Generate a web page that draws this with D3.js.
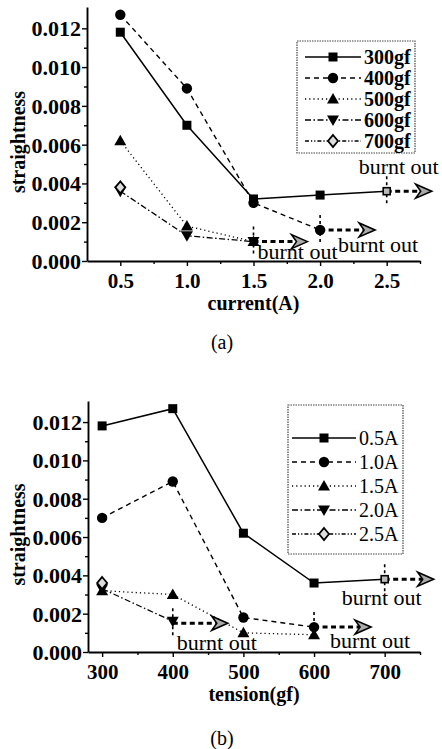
<!DOCTYPE html>
<html>
<head>
<meta charset="utf-8">
<script src="https://cdn.jsdelivr.net/npm/d3@7"></script>
<style>
  html, body { margin: 0; padding: 0; background: #fff; }
  svg { display: block; font-family: "Liberation Serif", "Times New Roman", serif; }
</style>
</head>
<body>
<svg id="chart" width="442" height="749"></svg>
<script>
// ---------------- DATA ----------------
const currents = [0.5, 1.0, 1.5, 2.0, 2.5];
const tensions = [300, 400, 500, 600, 700];

// chart (a): straightness vs current, one series per tension
const tensionLabels = ["300gf", "400gf", "500gf", "600gf", "700gf"];
const a300 = [0.0118, 0.0070, 0.0032, 0.0034, 0.0036];
const a400 = [0.0127, 0.0089, 0.0030, 0.0016];
const a500 = [0.0062, 0.0018, 0.0010];
const a600 = [0.0036, 0.0013, 0.0010];
const a700 = [0.0038];

// chart (b): straightness vs tension, one series per current
const currentLabels = ["0.5A", "1.0A", "1.5A", "2.0A", "2.5A"];
const b05 = [0.0118, 0.0127, 0.0062, 0.0036, 0.0038];
const b10 = [0.0070, 0.0089, 0.0018, 0.0013];
const b15 = [0.0032, 0.0030, 0.0010, 0.0009];
const b20 = [0.0033, 0.0016];
const b25 = [0.0036];

// burnt-out points
const burntA = [{x: 2.5, v: 0.0036}, {x: 2.0, v: 0.0016}, {x: 1.5, v: 0.0010}];
const burntB = [{x: 700, v: 0.0038}, {x: 600, v: 0.0013}, {x: 400, v: 0.0015}];
const burntText = "burnt out";

const yTicks = [0, 0.002, 0.004, 0.006, 0.008, 0.010, 0.012];
const yMinor = [0.001, 0.003, 0.005, 0.007, 0.009, 0.011];
const xTicksA = [0.5, 1.0, 1.5, 2.0, 2.5];
const xMinorA = [0.75, 1.25, 1.75, 2.25, 2.75];
const xTicksB = [300, 400, 500, 600, 700];
const xMinorB = [350, 450, 550, 650, 750];

// ---------------- STYLES ----------------
const dashes = [null, "5,4", "1.2,3", "6,2.5,1.5,2.5", "4,2,1.2,2,1.2,2"];
const widths = [1.5, 1.4, 1.3, 1.3, 1.3];
const markers = ["square", "circle", "triangle", "triangleDown", "diamond"];

const svg = d3.select("#chart");

function drawMarker(g, type, x, y, scale) {
  const s = scale || 1;
  if (type === "square") {
    g.append("rect").attr("x", x - 4.5 * s).attr("y", y - 4.5 * s)
      .attr("width", 9 * s).attr("height", 9 * s).attr("fill", "#000");
  } else if (type === "circle") {
    g.append("circle").attr("cx", x).attr("cy", y).attr("r", 5.2 * s).attr("fill", "#000");
  } else if (type === "triangle") {
    g.append("path").attr("d", `M${x},${y - 6 * s}L${x + 6 * s},${y + 4.5 * s}L${x - 6 * s},${y + 4.5 * s}Z`).attr("fill", "#000");
  } else if (type === "triangleDown") {
    g.append("path").attr("d", `M${x},${y + 6 * s}L${x + 6 * s},${y - 4.5 * s}L${x - 6 * s},${y - 4.5 * s}Z`).attr("fill", "#000");
  } else if (type === "diamond") {
    g.append("path").attr("d", `M${x},${y - 6 * s}L${x + 5 * s},${y}L${x},${y + 6 * s}L${x - 5 * s},${y}Z`)
      .attr("fill", "#ddd").attr("stroke", "#000").attr("stroke-width", 1.8);
  } else if (type === "small") {
    g.append("rect").attr("x", x - 3.5).attr("y", y - 3.5).attr("width", 7).attr("height", 7)
      .attr("fill", "#bbb").attr("stroke", "#000").attr("stroke-width", 1.6);
  }
}

function drawChart(opt) {
  const g = svg.append("g");
  const x = d3.scaleLinear().domain(opt.xDomain).range(opt.xRange);
  const y = d3.scaleLinear().domain([0, 0.0131]).range(opt.yRange);
  const x0 = opt.xRange[0], yBottom = opt.yRange[0];

  // axes
  const yAxis = g.append("g").attr("transform", `translate(${x0},0)`)
    .call(d3.axisLeft(y).tickValues(yTicks).tickFormat(d3.format(".3f")).tickSize(5).tickSizeOuter(0));
  g.append("g").attr("transform", `translate(${x0},0)`)
    .call(d3.axisLeft(y).tickValues(yMinor).tickFormat("").tickSize(3).tickSizeOuter(0))
    .select(".domain").remove();
  const xAxis = g.append("g").attr("transform", `translate(0,${yBottom})`)
    .call(d3.axisBottom(x).tickValues(opt.xTicks).tickFormat(opt.xFormat).tickSize(5).tickSizeOuter(0));
  g.append("g").attr("transform", `translate(0,${yBottom})`)
    .call(d3.axisBottom(x).tickValues(opt.xMinor).tickFormat("").tickSize(3).tickSizeOuter(0))
    .select(".domain").remove();
  g.selectAll(".domain").attr("stroke-width", 1.9);
  g.selectAll(".tick line").attr("stroke-width", 1.4);
  yAxis.selectAll("text").attr("font-size", 22).attr("font-weight", "bold")
    .attr("font-family", "Liberation Serif").attr("x", -6).attr("dy", "0.34em");
  xAxis.selectAll("text").attr("font-size", 21).attr("font-weight", "bold")
    .attr("font-family", "Liberation Serif").attr("y", 12);

  // titles
  g.append("text").attr("x", (opt.xRange[0] + opt.xRange[1]) / 2).attr("y", opt.xTitleY)
    .attr("text-anchor", "middle").attr("font-size", 20).attr("font-weight", "bold").text(opt.xTitle);
  const yc = (opt.yRange[0] + opt.yRange[1]) / 2 + 8;
  g.append("text").attr("transform", `translate(25,${yc}) rotate(-90)`)
    .attr("text-anchor", "middle").attr("font-size", 20).attr("font-weight", "bold").text("straightness");
  g.append("text").attr("x", 222).attr("y", opt.captionY).attr("text-anchor", "middle")
    .attr("font-size", 20).text(opt.caption);

  // series lines
  opt.series.forEach((vals, i) => {
    const pts = vals.map((v, k) => [opt.xs[k], v]);
    if (pts.length > 1) {
      g.append("path").datum(pts)
        .attr("d", d3.line().x(d => x(d[0])).y(d => y(d[1])))
        .attr("fill", "none").attr("stroke", "#000").attr("stroke-width", widths[i])
        .attr("stroke-dasharray", dashes[i]);
    }
  });

  // burnt-out annotations
  opt.burnt.forEach((b, j) => {
    const px = x(b.x), py = y(b.v);
    const L = opt.burntLayout[j];
    g.append("line").attr("x1", px).attr("x2", px).attr("y1", py - 15).attr("y2", py + 15)
      .attr("stroke", "#000").attr("stroke-width", 1.6).attr("stroke-dasharray", "3,3");
    g.append("line").attr("x1", px).attr("x2", px + L.len - 10).attr("y1", py).attr("y2", py)
      .attr("stroke", "#000").attr("stroke-width", 3).attr("stroke-dasharray", "5,3.5");
    const tx = px + L.len;
    g.append("path").attr("d", `M${tx},${py}L${tx - 16},${py - 7}L${tx - 11},${py}L${tx - 16},${py + 7}Z`)
      .attr("fill", "#aaa").attr("stroke", "#000").attr("stroke-width", 1.6).attr("stroke-linejoin", "miter");
    g.append("text").attr("x", px + L.dx).attr("y", py + L.dy).attr("text-anchor", "middle")
      .attr("font-size", 22).text(burntText);
  });

  // markers
  opt.series.forEach((vals, i) => {
    vals.forEach((v, k) => {
      const isSmall = opt.smallEnd && i === 0 && k === vals.length - 1;
      drawMarker(g, isSmall ? "small" : markers[i], x(opt.xs[k]), y(v));
    });
  });

  // legend
  const lg = opt.legend;
  g.append("rect").attr("x", lg.x0).attr("y", lg.y0).attr("width", lg.x1 - lg.x0).attr("height", lg.y1 - lg.y0)
    .attr("fill", "#fff").attr("stroke", "#444").attr("stroke-width", 1.2).attr("stroke-dasharray", "1.5,1");
  opt.labels.forEach((lab, i) => {
    const ry = lg.rowY + i * lg.step;
    g.append("line").attr("x1", lg.lx0).attr("x2", lg.lx1).attr("y1", ry).attr("y2", ry)
      .attr("stroke", "#000").attr("stroke-width", widths[i]).attr("stroke-dasharray", dashes[i]);
    drawMarker(g, markers[i], (lg.lx0 + lg.lx1) / 2, ry);
    g.append("text").attr("x", lg.tx).attr("y", ry + 7).attr("font-size", 20)
      .attr("font-weight", lg.bold ? "bold" : "normal").text(lab);
  });
}

drawChart({
  xDomain: [0.25, 2.75], xRange: [87, 420], yRange: [261, 7],
  xTicks: xTicksA, xMinor: xMinorA, xFormat: d3.format(".1f"),
  xTitle: "current(A)", xTitleY: 310, caption: "(a)", captionY: 349,
  xs: currents, series: [a300, a400, a500, a600, a700], labels: tensionLabels,
  burnt: burntA, smallEnd: true,
  burntLayout: [{len: 45, dx: 12, dy: -17}, {len: 55, dx: 58, dy: 22}, {len: 54, dx: 44, dy: 17}],
  legend: {x0: 297, x1: 415, y0: 41, y1: 153, rowY: 57, step: 21, lx0: 305, lx1: 361, tx: 364, bold: true}
});

drawChart({
  xDomain: [280, 750], xRange: [88, 420], yRange: [652, 401],
  xTicks: xTicksB, xMinor: xMinorB, xFormat: d3.format("d"),
  xTitle: "tension(gf)", xTitleY: 701, caption: "(b)", captionY: 745,
  xs: tensions, series: [b05, b10, b15, b20, b25], labels: currentLabels,
  burnt: burntB, smallEnd: true,
  burntLayout: [{len: 49, dx: -3, dy: 26}, {len: 57, dx: 56, dy: 21}, {len: 55, dx: 44, dy: 27}],
  legend: {x0: 288, x1: 403, y0: 405, y1: 554, rowY: 438, step: 24, lx0: 292, lx1: 356, tx: 359, bold: false}
});
</script>
</body>
</html>
